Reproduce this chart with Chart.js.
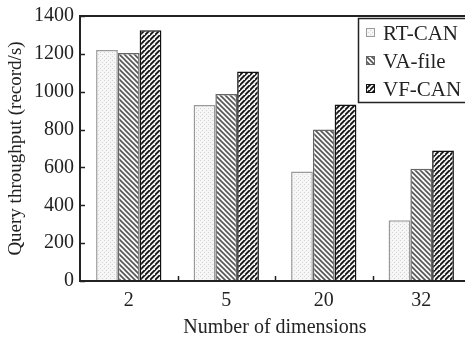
<!DOCTYPE html>
<html><head><meta charset="utf-8">
<script src="https://cdn.jsdelivr.net/npm/chart.js@4.4.1/dist/chart.umd.min.js"></script>
<style>
html,body{margin:0;padding:0;background:#fff;overflow:hidden;width:465px;height:340px;}
#wrap{position:absolute;left:0;top:0;width:472px;height:340px;}
</style></head><body>
<div id="wrap"><canvas id="c" width="472" height="340"></canvas></div>
<script>
const categories = ['2','5','20','32'];
const seriesNames = ['RT-CAN','VA-file','VF-CAN'];
const rtCan = [1220, 930, 579, 321];
const vaFile = [1204, 988, 800, 593];
const vfCan = [1325, 1107, 933, 689];
const yTicks = [0,200,400,600,800,1000,1200,1400];
const xTitle = 'Number of dimensions';
const yTitle = 'Query throughput (record/s)';

const FONT = "'Liberation Serif','Times New Roman',serif";

function dotPattern(){
  const c=document.createElement('canvas');c.width=4;c.height=4;
  const x=c.getContext('2d');
  x.fillStyle='#f6f6f6';x.fillRect(0,0,4,4);
  x.fillStyle='#d4d4d4';x.fillRect(0,0,1,1);x.fillRect(2,2,1,1);
  return x.createPattern(c,'repeat');
}
function hatch(dir,color,bg,w){
  const s=5;const c=document.createElement('canvas');c.width=s;c.height=s;
  const x=c.getContext('2d');
  x.fillStyle=bg;x.fillRect(0,0,s,s);
  x.strokeStyle=color;x.lineWidth=w;x.beginPath();
  if(dir>0){
    x.moveTo(-1,s+1);x.lineTo(s+1,-1);
    x.moveTo(-1-s,s+1);x.lineTo(1,-1);
    x.moveTo(s-1,2*s+1);x.lineTo(2*s+1,s-1);
  } else {
    x.moveTo(-1,-1);x.lineTo(s+1,s+1);
    x.moveTo(-1-s,-1);x.lineTo(1,s+1);
    x.moveTo(s-1,-1);x.lineTo(2*s+1,s+1);
  }
  x.stroke();
  return x.createPattern(c,'repeat');
}

const frame = {
  id:'frame',
  afterDatasetsDraw(chart){
    const {ctx,chartArea:a,scales:{y,x}}=chart;
    ctx.save();
    ctx.strokeStyle='#222';ctx.lineWidth=2;
    ctx.strokeRect(a.left,a.top,a.right-a.left,a.bottom-a.top);
    ctx.lineWidth=1.5;
    yTicks.forEach(v=>{const py=Math.round(y.getPixelForValue(v))+0.5;
      ctx.beginPath();ctx.moveTo(a.left,py);ctx.lineTo(a.left+5,py);ctx.stroke();});
    for(let i=1;i<categories.length;i++){
      const px=Math.round((x.getPixelForValue(i-1)+x.getPixelForValue(i))/2)+0.5;
      ctx.beginPath();ctx.moveTo(px,a.bottom);ctx.lineTo(px,a.bottom-5);ctx.stroke();
    }
    const lx=358, ly=18, lw=112, lh=84;
    ctx.fillStyle='#fff';ctx.fillRect(lx,ly,lw,lh);
    ctx.lineWidth=1.5;ctx.strokeStyle='#222';ctx.strokeRect(lx+0.5,ly+0.5,lw,lh);
    ctx.font="21px "+FONT;ctx.textBaseline='middle';ctx.textAlign='left';
    chart.data.datasets.forEach((d,i)=>{
      const cy=ly+15+i*28;
      ctx.fillStyle=d.backgroundColor;ctx.fillRect(lx+8,cy-5,9,9);
      ctx.lineWidth=1;ctx.strokeStyle=d.borderColor;ctx.strokeRect(lx+8.5,cy-4.5,8,8);
      ctx.fillStyle='#222';ctx.fillText(d.label,lx+25,cy+1);
    });
    ctx.restore();
  }
};

new Chart(document.getElementById('c'),{
  type:'bar',
  data:{labels:categories,datasets:[
    {label:seriesNames[0],data:rtCan,backgroundColor:dotPattern(),borderColor:'#9a9a9a',borderWidth:1.5},
    {label:seriesNames[1],data:vaFile,backgroundColor:hatch(-1,'#555','#fafafa',1.6),borderColor:'#666',borderWidth:1.5},
    {label:seriesNames[2],data:vfCan,backgroundColor:hatch(1,'#111','#f2f2f2',1.8),borderColor:'#111',borderWidth:1.5}
  ]},
  plugins:[frame],
  options:{
    responsive:false,animation:false,
    layout:{padding:{left:0,right:2,top:15,bottom:0}},
    plugins:{legend:{display:false},tooltip:{enabled:false}},
    datasets:{bar:{categoryPercentage:0.67,barPercentage:1}},
    scales:{
      x:{grid:{display:false,drawTicks:false},border:{display:false},
        afterFit(s){s.height=59;},
        ticks:{color:'#222',font:{family:FONT,size:20},padding:8},
        title:{display:true,text:xTitle,color:'#222',font:{family:FONT,size:20},padding:{top:0,bottom:0}}},
      y:{min:0,max:1400,grid:{display:false,drawTicks:false},border:{display:false},
        afterBuildTicks(s){s.ticks=yTicks.map(v=>({value:v}));},
        afterFit(s){s.width=80;},
        ticks:{color:'#222',font:{family:FONT,size:20,lineHeight:1},padding:6,callback:v=>String(v)},
        title:{display:true,text:yTitle,color:'#222',font:{family:FONT,size:19},padding:{top:5,bottom:0}}}
    }
  }
});
</script></body></html>
